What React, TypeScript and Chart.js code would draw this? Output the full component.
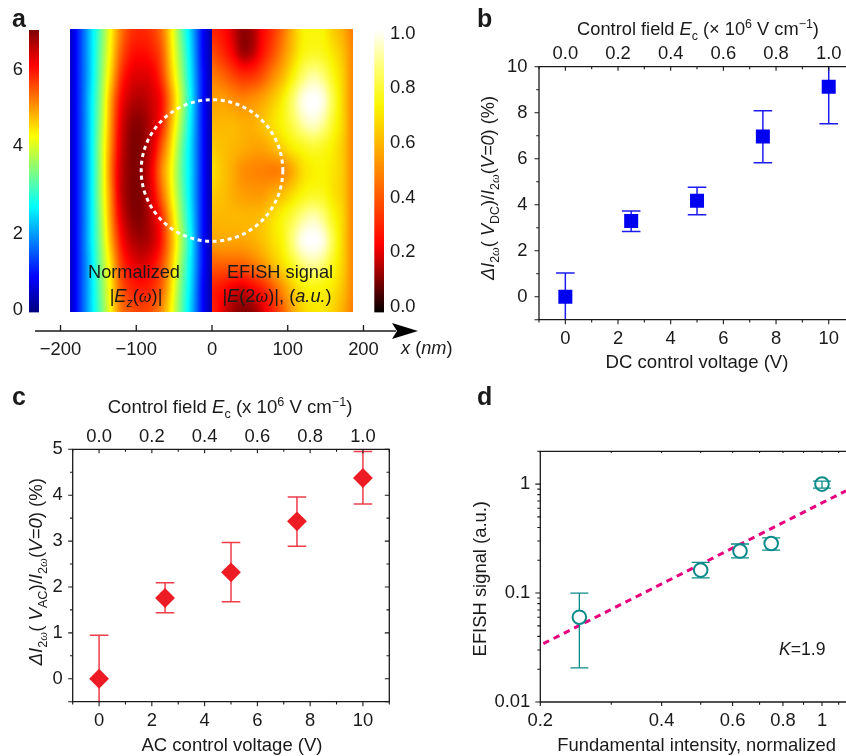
import { useEffect, useRef } from 'react';
import { Chart, registerables } from 'chart.js';

Chart.register(...registerables);
Chart.defaults.font.family = '"Liberation Sans", Arial, sans-serif';
Chart.defaults.color = '#1a1a1a';

const SANS = '"Liberation Sans", Arial, sans-serif';
const SERIF = '"Liberation Serif", serif';
const INK = '#1a1a1a';
const TICK_SIZE = 18.4;
const OVERHANG = 30;

/* ---------- panel a ---------- */
const fieldGrid = [
  [0.5, 1.3, 2.3, 3.3, 4.4, 5.3, 5.8, 5.9, 5.8, 5.4, 4.5, 3.3, 2.2, 1.0, 0.3],
  [0.5, 1.3, 2.3, 3.4, 4.5, 5.5, 6.0, 6.1, 6.0, 5.6, 4.6, 3.5, 2.3, 1.0, 0.3],
  [0.5, 1.3, 2.3, 3.5, 4.7, 5.8, 6.3, 6.4, 6.3, 5.8, 4.8, 3.7, 2.4, 1.1, 0.3],
  [0.5, 1.3, 2.4, 3.6, 5.0, 6.1, 6.6, 6.7, 6.5, 6.1, 5.1, 3.9, 2.5, 1.1, 0.3],
  [0.5, 1.3, 2.4, 3.7, 5.1, 6.3, 6.9, 6.95, 6.6, 6.0, 4.9, 3.7, 2.4, 1.1, 0.3],
  [0.5, 1.3, 2.4, 3.8, 5.2, 6.4, 7.0, 7.0, 6.5, 5.6, 4.6, 3.4, 2.3, 1.1, 0.3],
  [0.5, 1.3, 2.4, 3.8, 5.3, 6.5, 7.0, 6.95, 6.3, 5.3, 4.4, 3.3, 2.3, 1.1, 0.3],
  [0.5, 1.3, 2.4, 3.8, 5.2, 6.5, 7.0, 7.0, 6.4, 5.5, 4.5, 3.4, 2.3, 1.1, 0.3],
  [0.5, 1.3, 2.4, 3.7, 5.1, 6.3, 6.9, 7.0, 6.6, 5.9, 4.8, 3.6, 2.4, 1.1, 0.3],
  [0.5, 1.3, 2.4, 3.6, 4.9, 6.0, 6.6, 6.8, 6.6, 6.0, 5.0, 3.8, 2.5, 1.1, 0.3],
  [0.5, 1.3, 2.3, 3.5, 4.6, 5.7, 6.2, 6.4, 6.2, 5.7, 4.8, 3.6, 2.4, 1.1, 0.3],
  [0.5, 1.3, 2.3, 3.4, 4.5, 5.5, 5.9, 6.0, 5.9, 5.5, 4.6, 3.4, 2.3, 1.0, 0.3],
  [0.5, 1.3, 2.3, 3.3, 4.4, 5.3, 5.6, 5.7, 5.6, 5.2, 4.4, 3.3, 2.2, 1.0, 0.3],
];
const efishGrid = [
  [0.30, 0.27, 0.20, 0.13, 0.15, 0.24, 0.33, 0.45, 0.60, 0.72, 0.74, 0.73, 0.65, 0.58, 0.48],
  [0.38, 0.32, 0.24, 0.15, 0.17, 0.27, 0.38, 0.50, 0.63, 0.74, 0.77, 0.76, 0.70, 0.62, 0.50],
  [0.48, 0.44, 0.38, 0.33, 0.34, 0.40, 0.50, 0.60, 0.73, 0.85, 0.91, 0.87, 0.76, 0.65, 0.50],
  [0.55, 0.55, 0.52, 0.50, 0.52, 0.56, 0.63, 0.72, 0.85, 0.97, 1.00, 0.97, 0.82, 0.66, 0.50],
  [0.60, 0.60, 0.60, 0.58, 0.58, 0.62, 0.68, 0.74, 0.82, 0.91, 0.95, 0.90, 0.78, 0.66, 0.50],
  [0.64, 0.62, 0.60, 0.58, 0.56, 0.56, 0.60, 0.66, 0.72, 0.76, 0.79, 0.77, 0.72, 0.64, 0.50],
  [0.68, 0.63, 0.58, 0.52, 0.50, 0.49, 0.48, 0.50, 0.58, 0.68, 0.72, 0.73, 0.70, 0.64, 0.50],
  [0.64, 0.62, 0.58, 0.55, 0.54, 0.54, 0.58, 0.62, 0.68, 0.74, 0.77, 0.76, 0.70, 0.64, 0.50],
  [0.60, 0.60, 0.60, 0.60, 0.60, 0.62, 0.68, 0.74, 0.81, 0.89, 0.93, 0.88, 0.76, 0.66, 0.50],
  [0.55, 0.56, 0.56, 0.56, 0.58, 0.62, 0.68, 0.74, 0.87, 0.98, 1.00, 0.97, 0.82, 0.66, 0.50],
  [0.42, 0.42, 0.42, 0.42, 0.46, 0.52, 0.60, 0.68, 0.77, 0.86, 0.90, 0.86, 0.76, 0.65, 0.50],
  [0.30, 0.27, 0.22, 0.20, 0.24, 0.30, 0.40, 0.52, 0.64, 0.71, 0.74, 0.73, 0.70, 0.62, 0.50],
  [0.30, 0.22, 0.15, 0.12, 0.13, 0.20, 0.30, 0.42, 0.56, 0.66, 0.70, 0.70, 0.66, 0.58, 0.48],
];
const fieldExtentNm = [-187, 0];
const efishExtentNm = [0, 186];
const mapExtentYNm = [-187, 187];
const circleRadiusNm = 93.5;
const mapAxisTicks = [-200, -100, 0, 100, 200];
const fieldBarMax = 7.0;
const fieldBarTicks = [0, 1.9, 4.1, 6];
const fieldBarLabels = ['0', '2', '4', '6'];
const efishBarTicks = [0, 0.2, 0.4, 0.6, 0.8, 1.0];

/* ---------- panel b ---------- */
const dcVoltage = [0, 2.5, 5, 7.5, 10];
const dcChange = [0, 3.29, 4.17, 6.96, 9.13];
const dcHigh = [1.03, 3.73, 4.76, 8.08, 10.6];
const dcLow = [-1.1, 2.84, 3.56, 5.82, 7.52];

/* ---------- panel c ---------- */
const acVoltage = [0, 2.5, 5, 7.5, 10];
const acChange = [0, 1.76, 2.32, 3.43, 4.375];
const acHigh = [0.95, 2.09, 2.97, 3.96, 4.95];
const acLow = [-0.6, 1.44, 1.68, 2.89, 3.81];

/* ---------- panel d ---------- */
const intensity = [0.25, 0.5, 0.626, 0.748, 1];
const efish = [0.06, 0.1625, 0.243, 0.285, 1];
const efishHigh = [0.1, 0.191, 0.282, 0.321, 1.065];
const efishLow = [0.0206, 0.138, 0.21, 0.248, 0.92];
const fitX = [0.2035, 1.147];
const fitY = [0.0343, 0.868];
const intensityTicks = [0.2, 0.3, 0.4, 0.5, 0.6, 0.7, 0.8, 0.9, 1, 1.1];
const intensityLabels = [0.2, 0.4, 0.6, 0.8, 1];
const signalLabels = [0.01, 0.1, 1];
const signalMinor = [
  0.02, 0.03, 0.04, 0.05, 0.06, 0.07, 0.08, 0.09,
  0.2, 0.3, 0.4, 0.5, 0.6, 0.7, 0.8, 0.9, 2,
];

/* ---------- colour maps ---------- */
const clamp = (v: number, a: number, b: number) => Math.max(a, Math.min(b, v));
function jet(t: number): number[] {
  const f = (c: number) => 255 * clamp(1.5 - Math.abs(4 * t - c), 0, 1);
  return [f(3), f(2), f(1)];
}
const hotStops: number[][] = [
  [0, 0, 0, 0],
  [0.12, 135, 0, 0],
  [0.24, 255, 0, 0],
  [0.5, 255, 135, 0],
  [0.73, 250, 245, 0],
  [0.86, 255, 255, 110],
  [1, 255, 255, 255],
];
function hot(t: number): number[] {
  const v = clamp(t, 0, 1);
  for (let i = 1; i < hotStops.length; i++) {
    if (v <= hotStops[i][0]) {
      const a = hotStops[i - 1];
      const b = hotStops[i];
      const k = (v - a[0]) / (b[0] - a[0]);
      return [a[1] + (b[1] - a[1]) * k, a[2] + (b[2] - a[2]) * k, a[3] + (b[3] - a[3]) * k];
    }
  }
  return [255, 255, 255];
}

/* ---------- rich text ---------- */
type Seg = { t: string; i?: boolean; sub?: boolean; sup?: boolean; serif?: boolean };
type Label = { segs: Seg[]; x: number; y: number; size: number; rot?: boolean; bold?: boolean; align?: 'left' | 'center' };

function segFont(s: Seg, size: number, bold?: boolean) {
  const px = s.sub || s.sup ? size * 0.68 : size;
  return `${s.i ? 'italic ' : ''}${bold ? 'bold ' : ''}${px}px ${s.serif ? SERIF : SANS}`;
}
function drawLabel(ctx: CanvasRenderingContext2D, l: Label, ox: number, oy: number) {
  ctx.save();
  ctx.translate(l.x - ox, l.y - oy);
  if (l.rot) ctx.rotate(-Math.PI / 2);
  ctx.fillStyle = INK;
  ctx.textBaseline = 'alphabetic';
  ctx.textAlign = 'left';
  let w = 0;
  for (const s of l.segs) {
    ctx.font = segFont(s, l.size, l.bold);
    w += ctx.measureText(s.t).width;
  }
  let x = l.align === 'left' ? 0 : -w / 2;
  for (const s of l.segs) {
    ctx.font = segFont(s, l.size, l.bold);
    const dy = s.sub ? l.size * 0.26 : s.sup ? -l.size * 0.38 : 0;
    ctx.fillText(s.t, x, dy);
    x += ctx.measureText(s.t).width;
  }
  ctx.restore();
}
const plain = (t: string): Seg[] => [{ t }];
const omega2: Seg[] = [{ t: '2', sub: true }, { t: 'ω', sub: true, i: true, serif: true }];

/* ---------- shared helpers ---------- */
const fitW = (w: number) => (s: any) => { s.width = w; s.paddingTop = 0; s.paddingBottom = 0; };
const fitH = (h: number) => (s: any) => { s.height = h; s.paddingLeft = 0; s.paddingRight = 0; };
const setTicks = (vals: number[]) => (s: any) => { s.ticks = vals.map((value) => ({ value })); };

function tickAxis(opts: any) {
  return {
    grid: { display: false, drawTicks: false },
    border: { display: false },
    ...opts,
  };
}
function marks(ctx: CanvasRenderingContext2D, pts: number[][]) {
  ctx.beginPath();
  for (const p of pts) {
    ctx.moveTo(p[0], p[1]);
    ctx.lineTo(p[2], p[3]);
  }
  ctx.stroke();
}
type Frame = {
  id: string;
  ox: number;
  oy: number;
  labels: Label[];
  right: boolean;
  ticks: (c: any) => number[][];
};
function framePlugin(f: Frame) {
  return {
    id: f.id,
    afterDatasetsDraw(chart: any) {
      const ctx = chart.ctx;
      const a = chart.chartArea;
      ctx.save();
      ctx.strokeStyle = INK;
      ctx.lineWidth = 1.3;
      const edges = [
        [a.left, a.top - 0.65, a.left, a.bottom + 0.65],
        [a.left, a.top, a.right, a.top],
        [a.left, a.bottom, a.right, a.bottom],
      ];
      if (f.right) edges.push([a.right, a.top - 0.65, a.right, a.bottom + 0.65]);
      marks(ctx, edges);
      ctx.lineWidth = 1.1;
      marks(ctx, f.ticks(chart));
      ctx.restore();
      f.labels.forEach((l) => drawLabel(ctx, l, f.ox, f.oy));
    },
  };
}
function linearTicks(xMaj: number[], xMin: number[], yMaj: number[], yMin: number[], right: boolean) {
  return (c: any) => {
    const a = c.chartArea;
    const out: number[][] = [];
    const X = (v: number) => c.scales.x.getPixelForValue(v);
    const Y = (v: number) => c.scales.y.getPixelForValue(v);
    xMaj.forEach((v) => {
      out.push([X(v), a.bottom, X(v), a.bottom + 4.5]);
      out.push([X(v), a.top, X(v), a.top + 4]);
    });
    xMin.forEach((v) => {
      out.push([X(v), a.bottom, X(v), a.bottom + 2.8]);
      out.push([X(v), a.top, X(v), a.top + 2.5]);
    });
    yMaj.forEach((v) => {
      out.push([a.left, Y(v), a.left - 4.5, Y(v)]);
      if (right) out.push([a.right, Y(v), a.right - 4.5, Y(v)]);
    });
    yMin.forEach((v) => {
      out.push([a.left, Y(v), a.left - 2.8, Y(v)]);
      if (right) out.push([a.right, Y(v), a.right - 2.8, Y(v)]);
    });
    return out;
  };
}
function errorSets(xs: number[], lo: number[], hi: number[], color: string, cap: number, lw: number, orderOf: (i: number) => number) {
  return xs.map((x, i) => ({
    type: 'scatter',
    showLine: true,
    data: [{ x, y: lo[i] }, { x, y: hi[i] }],
    borderColor: color,
    borderWidth: lw,
    pointStyle: 'line',
    pointRadius: cap,
    pointBorderColor: color,
    pointBorderWidth: lw,
    clip: 0,
    order: orderOf(i),
  }));
}
function points(xs: number[], ys: number[]) {
  return xs.map((x, i) => ({ x, y: ys[i] }));
}
const baseOptions = (padding: any, scales: any) => ({
  responsive: false,
  animation: false,
  events: [],
  layout: { padding },
  plugins: { legend: { display: false }, tooltip: { enabled: false }, title: { display: false } },
  scales,
});

/* ---------- bicubic sampling of a hand-read grid, for display ---------- */
function cubic(a: number, b: number, c: number, d: number, t: number) {
  return b + 0.5 * t * (c - a + t * (2 * a - 5 * b + 4 * c - d + t * (3 * (b - c) + d - a)));
}
function sample(g: number[][], u: number, v: number) {
  const R = g.length;
  const C = g[0].length;
  const fx = u * (C - 1);
  const fy = v * (R - 1);
  const ix = clamp(Math.floor(fx), 0, C - 2);
  const iy = clamp(Math.floor(fy), 0, R - 2);
  const tx = fx - ix;
  const ty = fy - iy;
  const col: number[] = [];
  for (let j = -1; j <= 2; j++) {
    const r = g[clamp(iy + j, 0, R - 1)];
    col.push(cubic(r[clamp(ix - 1, 0, C - 1)], r[ix], r[ix + 1], r[clamp(ix + 2, 0, C - 1)], tx));
  }
  return cubic(col[0], col[1], col[2], col[3], ty);
}
function paintGrid(ctx: CanvasRenderingContext2D, g: number[][], x0: number, x1: number, y0: number, y1: number, colour: (v: number) => number[]) {
  const l = Math.round(x0);
  const r = Math.round(x1);
  const t = Math.round(y0);
  const b = Math.round(y1);
  const img = ctx.createImageData(r - l, b - t);
  for (let py = 0; py < b - t; py++) {
    for (let px = 0; px < r - l; px++) {
      const c = colour(sample(g, (px + 0.5) / (r - l), (py + 0.5) / (b - t)));
      const k = (py * (r - l) + px) * 4;
      img.data[k] = c[0];
      img.data[k + 1] = c[1];
      img.data[k + 2] = c[2];
      img.data[k + 3] = 255;
    }
  }
  const off = document.createElement('canvas');
  off.width = r - l;
  off.height = b - t;
  off.getContext('2d')!.putImageData(img, 0, 0);
  ctx.drawImage(off, l, t);
}

/* ---------- configs ---------- */
function heatmapConfig() {
  const cells = (g: number[][], ext: number[]) =>
    g.flatMap((row, r) =>
      row.map((v, c) => ({
        x: ext[0] + ((ext[1] - ext[0]) * c) / (row.length - 1),
        y: mapExtentYNm[1] - ((mapExtentYNm[1] - mapExtentYNm[0]) * r) / (g.length - 1),
        v,
      })),
    );
  const plugin = {
    id: 'maps',
    beforeDatasetsDraw(chart: any) {
      const { ctx, scales } = chart;
      const X = (v: number) => scales.x.getPixelForValue(v);
      const Y = (v: number) => scales.y.getPixelForValue(v);
      paintGrid(ctx, fieldGrid, X(fieldExtentNm[0]), X(fieldExtentNm[1]), Y(mapExtentYNm[1]), Y(mapExtentYNm[0]), (v) => jet(v / 7.05));
      paintGrid(ctx, efishGrid, X(efishExtentNm[0]), X(efishExtentNm[1]), Y(mapExtentYNm[1]), Y(mapExtentYNm[0]), (v) => hot(v));
    },
    afterDatasetsDraw(chart: any) {
      const { ctx, scales, chartArea: a } = chart;
      const X = (v: number) => scales.x.getPixelForValue(v);
      const Y = (v: number) => scales.y.getPixelForValue(v);
      ctx.save();
      ctx.strokeStyle = '#ffffff';
      ctx.lineWidth = 3;
      ctx.setLineDash([4, 3.6]);
      ctx.beginPath();
      ctx.arc(X(0), Y(0), X(circleRadiusNm) - X(0), 0, Math.PI * 2);
      ctx.stroke();
      ctx.setLineDash([]);
      ctx.strokeStyle = INK;
      ctx.lineWidth = 1.3;
      marks(ctx, [[a.left, a.bottom, a.right - 22, a.bottom]]);
      marks(ctx, mapAxisTicks.map((v) => [X(v), a.bottom, X(v), a.bottom - 6]));
      ctx.fillStyle = '#000';
      ctx.beginPath();
      ctx.moveTo(a.right, a.bottom);
      ctx.lineTo(a.right - 26, a.bottom - 8);
      ctx.lineTo(a.right - 21, a.bottom);
      ctx.lineTo(a.right - 26, a.bottom + 8);
      ctx.closePath();
      ctx.fill();
      ctx.restore();
      const texts: Label[] = [
        { segs: plain('a'), x: 12, y: 27, size: 25, bold: true, align: 'left' },
        { segs: plain('Normalized'), x: 134, y: 278, size: 18.2 },
        { segs: [{ t: '|' }, { t: 'E', i: true }, { t: 'z', i: true, sub: true }, { t: '(' }, { t: 'ω', i: true, serif: true }, { t: ')|' }], x: 136, y: 302, size: 18.2 },
        { segs: plain('EFISH signal'), x: 280, y: 278, size: 18.2 },
        { segs: [{ t: '|' }, { t: 'E', i: true }, { t: '(2' }, { t: 'ω', i: true, serif: true }, { t: ')|, (' }, { t: 'a.u.', i: true }, { t: ')' }], x: 277, y: 302, size: 18.2 },
        { segs: [{ t: 'x', i: true }, { t: ' (' }, { t: 'nm', i: true }, { t: ')' }], x: 401, y: 354, size: 18.2, align: 'left' },
      ];
      texts.forEach((l) => drawLabel(ctx, l, 0, 0));
    },
  };
  return {
    type: 'scatter',
    data: {
      datasets: [
        { label: 'Normalized |Ez(ω)|', data: cells(fieldGrid, fieldExtentNm), pointRadius: 0 },
        { label: 'EFISH signal |E(2ω)|', data: cells(efishGrid, efishExtentNm), pointRadius: 0 },
      ],
    },
    options: baseOptions({ left: 35, right: 52, top: 29, bottom: 0 }, {
      x: tickAxis({
        type: 'linear',
        position: 'bottom',
        min: -233.7,
        max: 272,
        afterBuildTicks: setTicks(mapAxisTicks),
        afterFit: fitH(49),
        ticks: {
          autoSkip: false,
          maxRotation: 0,
          padding: 8,
          font: { size: TICK_SIZE },
          color: INK,
          callback: (v: number) => (v < 0 ? `\u2212${Math.abs(v)}` : `${v}`),
        },
      }),
      y: { type: 'linear', display: false, min: -211.9, max: 186.8 },
    }),
    plugins: [plugin],
  };
}

function barConfig(side: 'left' | 'right', min: number, max: number, lo: number, hi: number, tickVals: number[], fmt: (v: number, i: number) => string, colour: (t: number) => number[], padding: any, axisW: number) {
  return {
    type: 'bar',
    data: {
      labels: ['scale'],
      datasets: [
        {
          data: [[lo, hi]],
          barPercentage: 1,
          categoryPercentage: 1,
          borderWidth: 0,
          backgroundColor: (c: any) => {
            const a = c.chart.chartArea;
            if (!a) return '#000';
            const g = c.chart.ctx.createLinearGradient(0, a.bottom, 0, a.top);
            for (let i = 0; i <= 64; i++) {
              const rgb = colour(i / 64);
              g.addColorStop(i / 64, `rgb(${rgb[0]},${rgb[1]},${rgb[2]})`);
            }
            return g;
          },
        },
      ],
    },
    options: baseOptions(padding, {
      x: { display: false },
      y: tickAxis({
        type: 'linear',
        position: side,
        min,
        max,
        afterBuildTicks: setTicks(tickVals),
        afterFit: fitW(axisW),
        ticks: {
          autoSkip: false,
          padding: 6,
          font: { size: TICK_SIZE },
          color: INK,
          callback: (v: number, i: number) => fmt(v, i),
        },
      }),
    }),
  };
}

const xAxes = (
  xMax: number,
  bottomH: number,
  topH: number,
) => ({
  x: tickAxis({
    type: 'linear',
    position: 'bottom',
    min: -1,
    max: xMax,
    afterBuildTicks: setTicks([0, 2, 4, 6, 8, 10]),
    afterFit: fitH(bottomH),
    ticks: { autoSkip: false, maxRotation: 0, padding: 8, font: { size: TICK_SIZE }, color: INK, callback: (v: number) => `${v}` },
  }),
  xTop: tickAxis({
    type: 'linear',
    position: 'top',
    min: -0.1,
    max: xMax / 10,
    afterBuildTicks: setTicks([0, 0.2, 0.4, 0.6, 0.8, 1]),
    afterFit: fitH(topH),
    ticks: { autoSkip: false, maxRotation: 0, padding: 1.5, font: { size: TICK_SIZE }, color: INK, callback: (v: number) => v.toFixed(1) },
  }),
});

function configB() {
  const OX = 430;
  const OY = 0;
  const labels: Label[] = [
    { segs: plain('b'), x: 477, y: 27, size: 25, bold: true, align: 'left' },
    { segs: [{ t: 'Control field ' }, { t: 'E', i: true }, { t: 'c', sub: true }, { t: ' (× 10' }, { t: '6', sup: true }, { t: ' V cm' }, { t: '−1', sup: true }, { t: ')' }], x: 698, y: 35, size: 18.25 },
    { segs: plain('DC control voltage (V)'), x: 697, y: 368, size: 18.6 },
    {
      segs: [{ t: 'Δ', i: true }, { t: 'I', i: true }, ...omega2, { t: '( ' }, { t: 'V', i: true }, { t: 'DC', sub: true }, { t: ')/' }, { t: 'I', i: true }, ...omega2, { t: '(' }, { t: 'V=0', i: true }, { t: ') (%)' }],
      x: 494, y: 188, size: 18.2, rot: true,
    },
  ];
  const blue = '#0000f0';
  return {
    type: 'scatter',
    data: {
      datasets: [
        {
          label: 'DC',
          data: points(dcVoltage, dcChange),
          pointStyle: 'rect',
          pointRadius: 9.9,
          pointBackgroundColor: blue,
          pointBorderWidth: 0,
          clip: 0,
          order: 1,
        },
        ...errorSets(dcVoltage, dcLow, dcHigh, '#1c1cf0', 9.3, 1.5, () => 2),
      ],
    },
    options: baseOptions({ left: 0, right: OVERHANG, top: 0, bottom: 0 }, {
      ...xAxes((846 - 565) / 26.37, 60.3, 66.7),
      y: tickAxis({
        type: 'linear',
        position: 'left',
        min: -1,
        max: 10,
        afterBuildTicks: setTicks([0, 2, 4, 6, 8, 10]),
        afterFit: fitW(109),
        ticks: { autoSkip: false, padding: 11.5, font: { size: TICK_SIZE }, color: INK, callback: (v: number) => `${v}` },
      }),
    }),
    plugins: [
      framePlugin({
        id: 'frameB',
        ox: OX,
        oy: OY,
        labels,
        right: false,
        ticks: linearTicks([0, 2, 4, 6, 8, 10], [-1, 1, 3, 5, 7, 9], [-1, 0, 2, 4, 6, 8, 10], [1, 3, 5, 7, 9], false),
      }),
    ],
  };
}

function configC() {
  const OX = 0;
  const OY = 380;
  const labels: Label[] = [
    { segs: plain('c'), x: 12, y: 405, size: 25, bold: true, align: 'left' },
    { segs: [{ t: 'Control field ' }, { t: 'E', i: true }, { t: 'c', sub: true }, { t: ' (x 10' }, { t: '6', sup: true }, { t: ' V cm' }, { t: '−1', sup: true }, { t: ')' }], x: 230, y: 412.7, size: 18.6 },
    { segs: plain('AC control voltage (V)'), x: 232, y: 751, size: 18.5 },
    {
      segs: [{ t: 'Δ', i: true }, { t: 'I', i: true }, ...omega2, { t: '( ' }, { t: 'V', i: true }, { t: 'AC', sub: true }, { t: ')/' }, { t: 'I', i: true }, ...omega2, { t: '(' }, { t: 'V=0', i: true }, { t: ') (%)' }],
      x: 41.7, y: 571.7, size: 18.6, rot: true,
    },
  ];
  const red = '#ed1c24';
  return {
    type: 'scatter',
    data: {
      datasets: [
        {
          label: 'AC',
          data: points(acVoltage, acChange),
          pointStyle: 'rectRot',
          pointRadius: 9.9,
          pointBackgroundColor: red,
          pointBorderWidth: 0,
          clip: 0,
          order: 1,
        },
        ...errorSets(acVoltage, acLow, acHigh, '#ee3c4a', 9.3, 1.5, () => 2),
      ],
    },
    options: baseOptions({ left: 0, right: 430 - 389.3, top: 0, bottom: 0 }, {
      ...xAxes(11, 756 - 701.7, 449.3 - 380),
      y: tickAxis({
        type: 'linear',
        position: 'left',
        min: -0.5,
        max: 5,
        afterBuildTicks: setTicks([0, 1, 2, 3, 4, 5]),
        afterFit: fitW(72.7),
        ticks: { autoSkip: false, padding: 10, font: { size: TICK_SIZE }, color: INK, callback: (v: number) => `${v}` },
      }),
    }),
    plugins: [
      framePlugin({
        id: 'frameC',
        ox: OX,
        oy: OY,
        labels,
        right: true,
        ticks: linearTicks([0, 2, 4, 6, 8, 10], [-1, 1, 3, 5, 7, 9, 11], [-0.5, 0, 1, 2, 3, 4, 5], [0.5, 1.5, 2.5, 3.5, 4.5], true),
      }),
    ],
  };
}

function configD() {
  const OX = 430;
  const OY = 380;
  const labels: Label[] = [
    { segs: plain('d'), x: 477, y: 405, size: 25, bold: true, align: 'left' },
    { segs: plain('Fundamental intensity, normalized'), x: 696.7, y: 751, size: 18.4 },
    { segs: plain('EFISH signal (a.u.)'), x: 486, y: 578.7, size: 18.4, rot: true },
    { segs: [{ t: 'K', i: true }, { t: '=1.9' }], x: 779, y: 655, size: 17.6, align: 'left' },
  ];
  const teal = '#0b8a8a';
  const ticks = (c: any) => {
    const a = c.chartArea;
    const X = (v: number) => c.scales.x.getPixelForValue(v);
    const Y = (v: number) => c.scales.y.getPixelForValue(v);
    const out: number[][] = [];
    intensityTicks.forEach((v) => {
      const major = intensityLabels.includes(v);
      out.push([X(v), a.bottom, X(v), a.bottom + (major ? 4 : 2.8)]);
      out.push([X(v), a.top, X(v), a.top + 1.6]);
    });
    signalLabels.forEach((v) => out.push([a.left, Y(v), a.left - 5, Y(v)]));
    signalMinor.forEach((v) => out.push([a.left, Y(v), a.left - 3, Y(v)]));
    return out;
  };
  return {
    type: 'scatter',
    data: {
      datasets: [
        {
          label: 'fit',
          data: points(fitX, fitY),
          showLine: true,
          borderColor: '#e6007e',
          borderWidth: 3,
          borderDash: [6.5, 5],
          pointRadius: 0,
          clip: 0,
          order: 3,
        },
        {
          label: 'EFISH',
          data: points(intensity, efish),
          pointStyle: 'circle',
          pointRadius: 6.8,
          pointBackgroundColor: '#ffffff',
          pointBorderColor: teal,
          pointBorderWidth: 2,
          clip: 0,
          order: 1,
        },
        ...errorSets(intensity, efishLow, efishHigh, teal, 9, 1.3, (i) => (i === 4 ? 0 : 2)),
      ],
    },
    options: baseOptions({ left: 0, right: OVERHANG, top: 0, bottom: 0 }, {
      x: tickAxis({
        type: 'logarithmic',
        position: 'bottom',
        min: 0.2,
        max: 1.147,
        afterBuildTicks: setTicks(intensityLabels),
        afterFit: fitH(756 - 702),
        ticks: { autoSkip: false, maxRotation: 0, padding: 8, font: { size: TICK_SIZE }, color: INK, callback: (v: number) => `${v}` },
      }),
      y: tickAxis({
        type: 'logarithmic',
        position: 'left',
        min: 0.01,
        max: 2,
        afterBuildTicks: setTicks(signalLabels),
        afterFit: fitW(110.3),
        ticks: { autoSkip: false, padding: 10, font: { size: TICK_SIZE }, color: INK, callback: (v: number) => `${v}` },
      }),
      xTopPad: { display: true, position: 'top', type: 'linear', min: 0, max: 1, afterFit: fitH(451.3 - 380), grid: { display: false, drawTicks: false }, border: { display: false }, ticks: { display: false } },
    }),
    plugins: [framePlugin({ id: 'frameD', ox: OX, oy: OY, labels, right: false, ticks })],
  };
}

/* ---------- page ---------- */
function Panel({ box, make }: { box: number[]; make: () => any }) {
  const ref = useRef<HTMLCanvasElement>(null);
  useEffect(() => {
    const chart = new Chart(ref.current!, make());
    return () => chart.destroy();
  }, []);
  return (
    <canvas
      ref={ref}
      width={box[2]}
      height={box[3]}
      style={{ position: 'absolute', left: box[0], top: box[1], width: box[2], height: box[3], display: 'block' }}
    />
  );
}

export default function App() {
  return (
    <div style={{ position: 'absolute', left: 0, top: 0, width: 846, height: 756, overflow: 'hidden', background: '#fff' }}>
      <Panel box={[0, 0, 470, 380]} make={heatmapConfig} />
      <Panel
        box={[0, 0, 60, 330]}
        make={() =>
          barConfig('left', -0.06, fieldBarMax, -0.06, fieldBarMax, fieldBarTicks, (_v, i) => fieldBarLabels[i], jet, { left: 0, right: 21, top: 30, bottom: 17.5 }, 29)
        }
      />
      <Panel
        box={[365, 0, 65, 330]}
        make={() =>
          barConfig('right', -0.02, 1.0135, -0.02, 1.0135, efishBarTicks, (v) => v.toFixed(1), hot, { left: 9.3, right: 0, top: 30, bottom: 17.5 }, 46)
        }
      />
      <Panel box={[430, 0, 416 + OVERHANG, 380]} make={configB} />
      <Panel box={[0, 380, 430, 376]} make={configC} />
      <Panel box={[430, 380, 416 + OVERHANG, 376]} make={configD} />
    </div>
  );
}
